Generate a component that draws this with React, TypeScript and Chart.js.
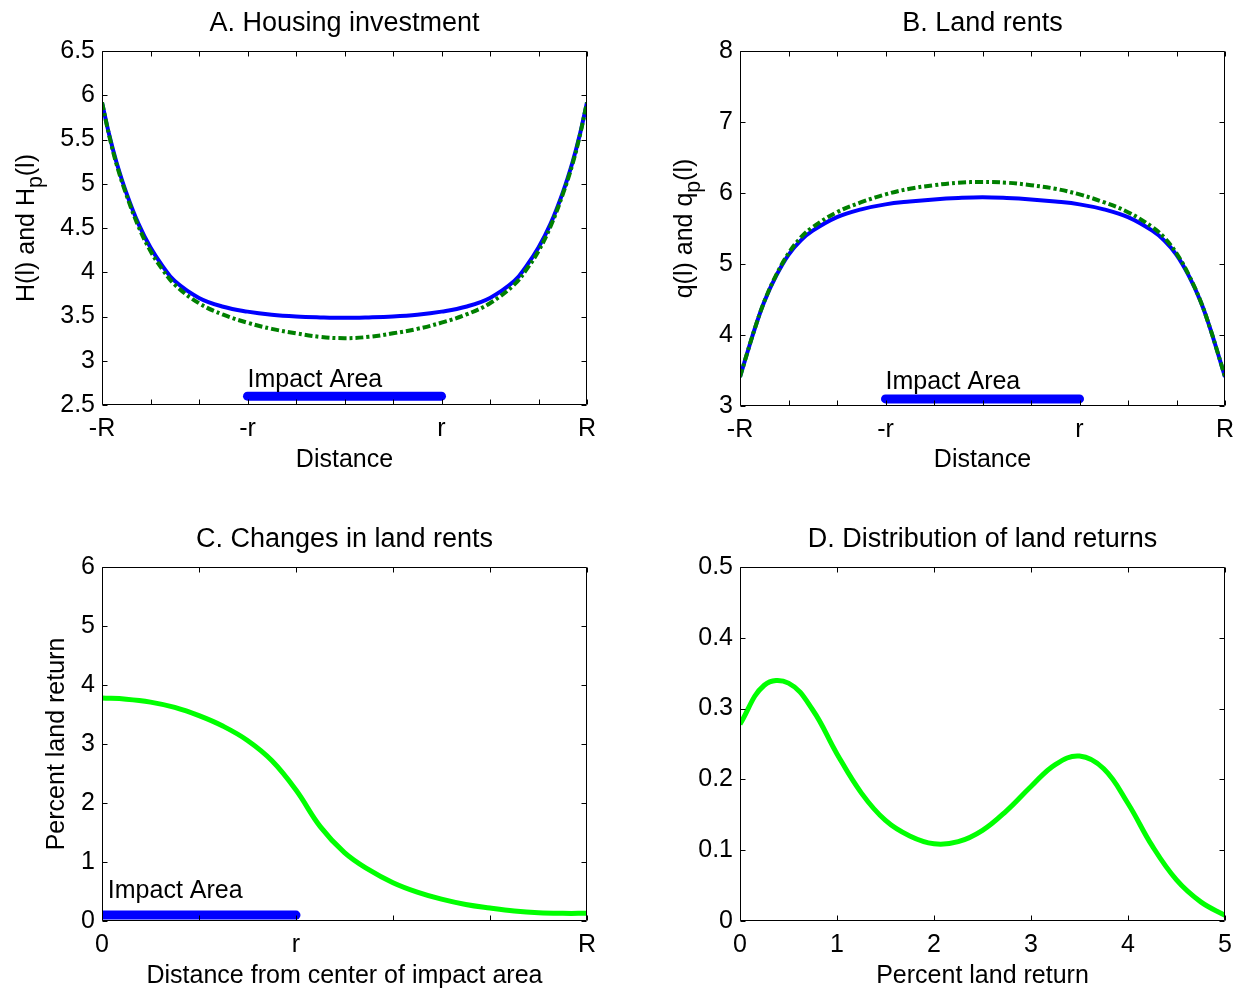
import React, { useEffect, useRef } from "react";
import { Chart, registerables } from "chart.js";

Chart.register(...registerables);

const FONT = "'Liberation Sans', Arial, Helvetica, sans-serif";
const LABEL_SIZE = 25;
const TITLE_SIZE = 27;
const BLUE = "#0000FF";
const DARK_GREEN = "#008000";
const BRIGHT_GREEN = "#00FF00";

// ---------- Panel A & B: distance axis ----------
const distanceX = [-1, -0.97, -0.94, -0.9, -0.85, -0.8, -0.75, -0.7, -0.6, -0.5, -0.4, -0.3, -0.2, -0.1, 0, 0.1, 0.2, 0.3, 0.4, 0.5, 0.6, 0.7, 0.75, 0.8, 0.85, 0.9, 0.94, 0.97, 1];
const distanceTicks = [-1, -0.8, -0.6, -0.4, -0.2, 0, 0.2, 0.4, 0.6, 0.8, 1];
const distanceTickLabels = ["-R", "", "", "-r", "", "", "", "r", "", "", "R"];

// Panel A: housing investment
const housingH = [5.92, 5.55, 5.24, 4.9, 4.55, 4.28, 4.07, 3.9, 3.71, 3.61, 3.555, 3.52, 3.5, 3.49, 3.485, 3.49, 3.5, 3.52, 3.555, 3.61, 3.71, 3.9, 4.07, 4.28, 4.55, 4.9, 5.24, 5.55, 5.92];
const housingHp = [5.92, 5.54, 5.22, 4.88, 4.52, 4.24, 4.03, 3.86, 3.65, 3.52, 3.43, 3.36, 3.31, 3.27, 3.255, 3.27, 3.31, 3.36, 3.43, 3.52, 3.65, 3.86, 4.03, 4.24, 4.52, 4.88, 5.22, 5.54, 5.92];
const housingYTicks = [2.5, 3, 3.5, 4, 4.5, 5, 5.5, 6, 6.5];
const housingYTickLabels = ["2.5", "3", "3.5", "4", "4.5", "5", "5.5", "6", "6.5"];

// Panel B: land rents
const rentQ = [3.41, 3.75, 4.08, 4.47, 4.84, 5.13, 5.33, 5.47, 5.66, 5.77, 5.84, 5.88, 5.91, 5.93, 5.94, 5.93, 5.91, 5.88, 5.84, 5.77, 5.66, 5.47, 5.33, 5.13, 4.84, 4.47, 4.08, 3.75, 3.41];
const rentQp = [3.41, 3.75, 4.08, 4.47, 4.85, 5.15, 5.37, 5.52, 5.73, 5.87, 5.98, 6.06, 6.11, 6.145, 6.155, 6.145, 6.11, 6.06, 5.98, 5.87, 5.73, 5.52, 5.37, 5.15, 4.85, 4.47, 4.08, 3.75, 3.41];
const rentYTicks = [3, 4, 5, 6, 7, 8];
const rentYTickLabels = ["3", "4", "5", "6", "7", "8"];

// Impact area bars
const impactX = [-0.4, 0.4];
const impactYA = [2.6, 2.6];
const impactYB = [3.1, 3.1];

// ---------- Panel C: changes in land rents ----------
const centerX = [0, 0.05, 0.1, 0.15, 0.2, 0.25, 0.3, 0.35, 0.4, 0.45, 0.5, 0.55, 0.6, 0.65, 0.7, 0.75, 0.8, 0.85, 0.9, 0.95, 1];
const percentReturn = [3.78, 3.76, 3.71, 3.62, 3.48, 3.3, 3.06, 2.72, 2.22, 1.6, 1.16, 0.87, 0.65, 0.49, 0.37, 0.28, 0.22, 0.17, 0.14, 0.13, 0.13];
const centerTicks = [0, 0.2, 0.4, 0.6, 0.8, 1];
const centerTickLabels = ["0", "", "r", "", "", "R"];
const changeYTicks = [0, 1, 2, 3, 4, 5, 6];
const changeYTickLabels = ["0", "1", "2", "3", "4", "5", "6"];
const impactXC = [0, 0.4];
const impactYC = [0.1, 0.1];

// ---------- Panel D: distribution of land returns ----------
const returnX = [0, 0.25, 0.5, 0.75, 1, 1.25, 1.5, 1.75, 2, 2.25, 2.5, 2.75, 3, 3.25, 3.5, 3.75, 4, 4.25, 4.5, 4.75, 5];
const returnDensity = [0.278, 0.333, 0.336, 0.298, 0.236, 0.181, 0.142, 0.12, 0.109, 0.112, 0.128, 0.156, 0.19, 0.221, 0.233, 0.215, 0.166, 0.106, 0.058, 0.027, 0.008];
const returnXTicks = [0, 1, 2, 3, 4, 5];
const returnXTickLabels = ["0", "1", "2", "3", "4", "5"];
const densityYTicks = [0, 0.1, 0.2, 0.3, 0.4, 0.5];
const densityYTickLabels = ["0", "0.1", "0.2", "0.3", "0.4", "0.5"];

type Part = { text: string; sub?: boolean };

const zip = (xs: number[], ys: number[]) => xs.map((x, i) => ({ x, y: ys[i] }));

function makeDecor(cfg: {
  xTicks: number[];
  yTicks: number[];
  yTitle?: Part[];
  yTitleOffset?: number;
  impact?: { text: string; x: number; y: number };
}) {
  return {
    id: "decor",
    afterDraw(chart: any) {
      const { ctx, chartArea, scales } = chart;
      const xs = scales.x;
      const ys = scales.y;
      const L = Math.round(chartArea.left) + 0.5;
      const R = Math.round(chartArea.right) - 0.5;
      const T = Math.round(chartArea.top) + 0.5;
      const B = Math.round(chartArea.bottom) - 0.5;
      ctx.save();
      ctx.strokeStyle = "#000";
      ctx.lineWidth = 1;
      ctx.beginPath();
      ctx.rect(L, T, R - L, B - T);
      ctx.stroke();
      const tl = 5;
      ctx.beginPath();
      for (const v of cfg.xTicks) {
        const px = Math.round(xs.getPixelForValue(v)) + 0.5;
        ctx.moveTo(px, B);
        ctx.lineTo(px, B - tl);
        ctx.moveTo(px, T);
        ctx.lineTo(px, T + tl);
      }
      for (const v of cfg.yTicks) {
        const py = Math.round(ys.getPixelForValue(v)) + 0.5;
        ctx.moveTo(L, py);
        ctx.lineTo(L + tl, py);
        ctx.moveTo(R, py);
        ctx.lineTo(R - tl, py);
      }
      ctx.stroke();

      ctx.fillStyle = "#000";
      if (cfg.impact) {
        ctx.font = `${LABEL_SIZE}px ${FONT}`;
        ctx.textAlign = "left";
        ctx.textBaseline = "middle";
        ctx.fillText(cfg.impact.text, xs.getPixelForValue(cfg.impact.x), ys.getPixelForValue(cfg.impact.y));
      }

      if (cfg.yTitle) {
        const mainFont = `${LABEL_SIZE}px ${FONT}`;
        const subSize = LABEL_SIZE * 0.85;
        const subFont = `${subSize}px ${FONT}`;
        ctx.translate(chartArea.left + (cfg.yTitleOffset || 0), (chartArea.top + chartArea.bottom) / 2);
        ctx.rotate(-Math.PI / 2);
        ctx.textAlign = "left";
        ctx.textBaseline = "middle";
        let total = 0;
        const widths = cfg.yTitle.map((p) => {
          ctx.font = p.sub ? subFont : mainFont;
          const w = ctx.measureText(p.text).width;
          total += w;
          return w;
        });
        let x = -total / 2;
        cfg.yTitle.forEach((p, i) => {
          ctx.font = p.sub ? subFont : mainFont;
          ctx.fillText(p.text, x, p.sub ? LABEL_SIZE * 0.36 : 0);
          x += widths[i];
        });
      }
      ctx.restore();
    },
  };
}

function axis(o: {
  min: number;
  max: number;
  ticks: number[];
  labels: string[];
  horizontal: boolean;
  size: number;
  title?: string;
  titlePadBottom?: number;
}) {
  const font = { family: FONT, size: LABEL_SIZE };
  return {
    type: "linear",
    min: o.min,
    max: o.max,
    afterBuildTicks: (s: any) => {
      s.ticks = o.ticks.map((v) => ({ value: v }));
    },
    afterFit: (s: any) => {
      if (o.horizontal) {
        s.height = o.size;
        s.paddingLeft = 0;
        s.paddingRight = 0;
      } else {
        s.width = o.size;
        s.paddingTop = 0;
        s.paddingBottom = 0;
      }
    },
    grid: { display: false, drawTicks: false },
    border: { display: false },
    ticks: {
      padding: o.horizontal ? 9.5 : 7,
      font,
      color: "#000",
      autoSkip: false,
      maxRotation: 0,
      minRotation: 0,
      callback: (_v: any, i: number) => o.labels[i],
    },
    title: o.title
      ? { display: true, text: o.title, font, color: "#000", padding: { top: 0, bottom: o.titlePadBottom || 0 } }
      : { display: false },
  };
}

function baseOptions(o: {
  title: string;
  titleTop: number;
  titleBottom: number;
  padRight: number;
  scales: any;
}) {
  return {
    responsive: false,
    animation: false,
    devicePixelRatio: 1,
    layout: { padding: { left: 0, right: o.padRight, top: 0, bottom: 0 } },
    plugins: {
      legend: { display: false },
      tooltip: { enabled: false },
      title: {
        display: true,
        text: o.title,
        fullSize: false,
        color: "#000",
        font: { family: FONT, size: TITLE_SIZE, weight: "normal" },
        padding: { top: o.titleTop, bottom: o.titleBottom },
      },
    },
    scales: o.scales,
  };
}

const lineDs = (data: any[], color: string, width: number, extra: any = {}) => ({
  data,
  borderColor: color,
  backgroundColor: color,
  borderWidth: width,
  pointRadius: 0,
  fill: false,
  tension: 0.4,
  ...extra,
});

const configA = () => ({
  type: "line",
  data: {
    datasets: [
      lineDs(zip(impactX, impactYA), BLUE, 9, { borderCapStyle: "round", tension: 0 }),
      lineDs(zip(distanceX, housingHp), DARK_GREEN, 4, { borderDash: [8, 3, 3, 3] }),
      lineDs(zip(distanceX, housingH), BLUE, 4),
    ],
  },
  options: baseOptions({
    title: "A. Housing investment",
    titleTop: 7.8,
    titleBottom: 10.8,
    padRight: 33,
    scales: {
      x: axis({ min: -1, max: 1, ticks: distanceTicks, labels: distanceTickLabels, horizontal: true, size: 91, title: "Distance", titlePadBottom: 21.3 }),
      y: axis({ min: 2.5, max: 6.5, ticks: housingYTicks, labels: housingYTickLabels, horizontal: false, size: 102 }),
    },
  }),
  plugins: [
    makeDecor({
      xTicks: distanceTicks,
      yTicks: housingYTicks,
      yTitle: [{ text: "H(l) and H" }, { text: "p", sub: true }, { text: "(l)" }],
      yTitleOffset: -75,
      impact: { text: "Impact Area", x: -0.4, y: 2.78 },
    }),
  ],
});

const configB = () => ({
  type: "line",
  data: {
    datasets: [
      lineDs(zip(impactX, impactYB), BLUE, 9, { borderCapStyle: "round", tension: 0 }),
      lineDs(zip(distanceX, rentQp), DARK_GREEN, 4, { borderDash: [8, 3, 3, 3] }),
      lineDs(zip(distanceX, rentQ), BLUE, 4),
    ],
  },
  options: baseOptions({
    title: "B. Land rents",
    titleTop: 7.8,
    titleBottom: 10.8,
    padRight: 15,
    scales: {
      x: axis({ min: -1, max: 1, ticks: distanceTicks, labels: distanceTickLabels, horizontal: true, size: 90, title: "Distance", titlePadBottom: 21.3 }),
      y: axis({ min: 3, max: 8, ticks: rentYTicks, labels: rentYTickLabels, horizontal: false, size: 120 }),
    },
  }),
  plugins: [
    makeDecor({
      xTicks: distanceTicks,
      yTicks: rentYTicks,
      yTitle: [{ text: "q(l) and q" }, { text: "p", sub: true }, { text: "(l)" }],
      yTitleOffset: -55,
      impact: { text: "Impact Area", x: -0.4, y: 3.34 },
    }),
  ],
});

const configC = () => ({
  type: "line",
  data: {
    datasets: [
      lineDs(zip(impactXC, impactYC), BLUE, 9, { borderCapStyle: "round", clip: 0, tension: 0 }),
      lineDs(zip(centerX, percentReturn), BRIGHT_GREEN, 5),
    ],
  },
  options: baseOptions({
    title: "C. Changes in land rents",
    titleTop: 27.8,
    titleBottom: 10.8,
    padRight: 33,
    scales: {
      x: axis({ min: 0, max: 1, ticks: centerTicks, labels: centerTickLabels, horizontal: true, size: 71, title: "Distance from center of impact area", titlePadBottom: 1.3 }),
      y: axis({ min: 0, max: 6, ticks: changeYTicks, labels: changeYTickLabels, horizontal: false, size: 102 }),
    },
  }),
  plugins: [
    makeDecor({
      xTicks: centerTicks,
      yTicks: changeYTicks,
      yTitle: [{ text: "Percent land return" }],
      yTitleOffset: -45,
      impact: { text: "Impact Area", x: 0.012, y: 0.51 },
    }),
  ],
});

const configD = () => ({
  type: "line",
  data: {
    datasets: [lineDs(zip(returnX, returnDensity), BRIGHT_GREEN, 5)],
  },
  options: baseOptions({
    title: "D. Distribution of land returns",
    titleTop: 27.8,
    titleBottom: 10.8,
    padRight: 15,
    scales: {
      x: axis({ min: 0, max: 5, ticks: returnXTicks, labels: returnXTickLabels, horizontal: true, size: 71, title: "Percent land return", titlePadBottom: 1.3 }),
      y: axis({ min: 0, max: 0.5, ticks: densityYTicks, labels: densityYTickLabels, horizontal: false, size: 120 }),
    },
  }),
  plugins: [makeDecor({ xTicks: returnXTicks, yTicks: densityYTicks })],
});

function Panel(props: { left: number; top: number; width: number; height: number; config: () => any }) {
  const ref = useRef<HTMLCanvasElement>(null);
  useEffect(() => {
    const chart = new Chart(ref.current as HTMLCanvasElement, props.config() as any);
    return () => chart.destroy();
  }, []);
  return (
    <canvas
      ref={ref}
      width={props.width}
      height={props.height}
      style={{ position: "absolute", left: props.left, top: props.top, width: props.width, height: props.height }}
    />
  );
}

export default function App() {
  return (
    <div style={{ position: "absolute", left: 0, top: 0, width: 1240, height: 992, background: "#fff", overflow: "hidden" }}>
      <Panel left={0} top={0} width={620} height={496} config={configA} />
      <Panel left={620} top={0} width={620} height={496} config={configB} />
      <Panel left={0} top={496} width={620} height={496} config={configC} />
      <Panel left={620} top={496} width={620} height={496} config={configD} />
    </div>
  );
}
